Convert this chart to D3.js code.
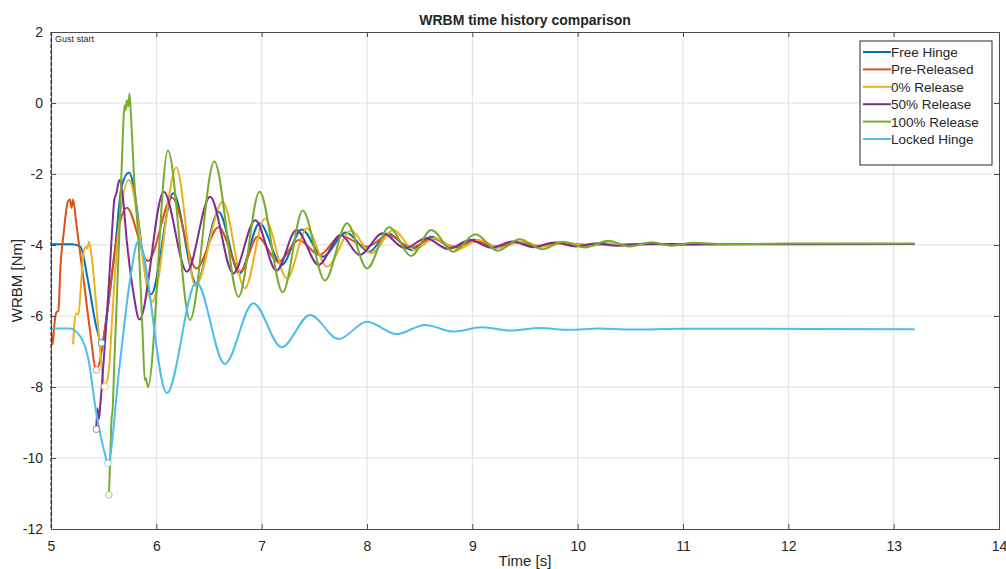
<!DOCTYPE html>
<html>
<head>
<meta charset="utf-8">
<script src="https://cdn.jsdelivr.net/npm/d3@7"></script>
<style>
    body { margin: 0; background: #fff; }
    text { font-family: "Liberation Sans", Arial, Helvetica, sans-serif; fill: #262626; }
    .grid line { stroke: #dfdfdf; stroke-width: 1; }
    .series { fill: none; stroke-width: 2; stroke-linejoin: round; }
</style>
</head>
<body>
<div id="chart"></div>
<script>
// Tick values
const xTicks = [5, 6, 7, 8, 9, 10, 11, 12, 13, 14];
const yTicks = [2, 0, -2, -4, -6, -8, -10, -12];

// Series names and colours (MATLAB default order)
const seriesNames = ["Free Hinge", "Pre-Released", "0% Release", "50% Release", "100% Release", "Locked Hinge"];
const seriesColors = ["#0072BD", "#D95319", "#EDB120", "#7E2F8E", "#77AC30", "#4DBEEE"];

// [time s, WRBM Nm]
const freeHinge = [
    [5.00, -3.98], [5.20, -3.98], [5.28, -4.05], [5.35, -4.99], [5.43, -6.30], [5.48, -6.76],
    [5.54, -5.74], [5.61, -4.05], [5.67, -2.36], [5.74, -1.96], [5.95, -5.39], [6.16, -2.54],
    [6.38, -5.08], [6.59, -3.06], [6.79, -4.80], [6.98, -3.39], [7.19, -4.56], [7.38, -3.56],
    [7.58, -4.33], [7.80, -3.65], [8.02, -4.19], [8.20, -3.67], [8.42, -4.14], [8.61, -3.77],
    [8.82, -4.09], [9.01, -3.85], [9.22, -4.07], [9.42, -3.90], [9.62, -4.05], [9.83, -3.93],
    [10.03, -4.03], [10.24, -3.95], [10.45, -4.01], [10.66, -3.96], [10.90, -3.99], [11.50, -3.97],
    [13.20, -3.97]
];
const preReleased = [
    [5.00, -6.40], [5.015, -6.80], [5.03, -6.30], [5.05, -5.90], [5.07, -5.85], [5.09, -4.60],
    [5.12, -3.67], [5.16, -2.78], [5.18, -2.72], [5.195, -2.95], [5.21, -2.72], [5.24, -3.39],
    [5.31, -4.99], [5.37, -6.40], [5.43, -7.52], [5.53, -6.00], [5.60, -4.30], [5.66, -3.30],
    [5.72, -2.95], [5.92, -4.45], [6.15, -2.67], [6.38, -4.66], [6.59, -3.50], [6.80, -4.74],
    [6.96, -3.77], [7.16, -4.47], [7.35, -3.86], [7.55, -4.28], [7.75, -3.74], [8.00, -4.05],
    [8.20, -3.72], [8.42, -4.07], [8.62, -3.82], [8.83, -4.05], [9.03, -3.90], [9.23, -4.04],
    [9.43, -3.93], [9.64, -4.02], [9.85, -3.95], [10.10, -3.99], [11.00, -3.97], [13.20, -3.97]
];
const zeroRelease = [
    [5.21, -6.80], [5.22, -6.30], [5.24, -5.92], [5.26, -5.95], [5.29, -4.89], [5.31, -4.20],
    [5.33, -4.05], [5.345, -4.10], [5.36, -3.91], [5.39, -4.42], [5.42, -5.36], [5.45, -6.40],
    [5.48, -7.40], [5.51, -7.99], [5.55, -7.50], [5.58, -6.10], [5.64, -3.60], [5.74, -2.17],
    [5.96, -5.60], [6.19, -1.82], [6.37, -5.15], [6.63, -2.78], [6.84, -5.22], [7.03, -3.25],
    [7.24, -4.94], [7.43, -3.53], [7.62, -4.61], [7.85, -3.60], [8.04, -4.23], [8.25, -3.58],
    [8.45, -4.14], [8.64, -3.81], [8.86, -4.12], [9.06, -3.86], [9.26, -4.08], [9.47, -3.90],
    [9.67, -4.05], [9.88, -3.93], [10.09, -4.03], [10.30, -3.96], [10.50, -4.00], [11.00, -3.97],
    [13.20, -3.97]
];
const fiftyRelease = [
    [5.43, -9.19], [5.44, -8.60], [5.455, -8.90], [5.465, -8.60], [5.48, -8.08], [5.51, -6.86],
    [5.54, -5.55], [5.58, -3.60], [5.60, -2.75], [5.62, -2.55], [5.65, -2.17], [5.68, -2.60],
    [5.72, -3.90], [5.78, -5.30], [5.84, -6.10], [6.07, -2.50], [6.29, -4.75], [6.51, -2.64],
    [6.73, -4.80], [6.94, -3.30], [7.14, -4.72], [7.33, -3.58], [7.54, -4.56], [7.75, -3.72],
    [7.93, -4.28], [8.15, -3.67], [8.36, -4.09], [8.56, -3.81], [8.77, -4.11], [8.98, -3.86],
    [9.18, -4.08], [9.38, -3.90], [9.58, -4.06], [9.78, -3.93], [9.98, -4.04], [10.18, -3.96],
    [10.38, -4.02], [10.60, -3.97], [11.00, -3.98], [13.20, -3.97]
];
const hundredRelease = [
    [5.55, -11.04], [5.56, -10.20], [5.575, -8.90], [5.585, -8.65], [5.60, -7.40], [5.62, -5.90],
    [5.65, -3.58], [5.67, -1.89], [5.70, -0.06], [5.71, -0.20], [5.72, 0.08], [5.735, -0.10],
    [5.745, 0.27], [5.76, -0.38], [5.79, -2.17], [5.83, -3.86], [5.87, -6.50], [5.89, -7.80],
    [5.90, -7.75], [5.92, -8.00], [6.11, -1.34], [6.32, -6.11], [6.55, -1.65], [6.78, -5.46],
    [6.98, -2.50], [7.20, -5.33], [7.39, -3.03], [7.60, -5.00], [7.81, -3.39], [8.00, -4.66],
    [8.21, -3.50], [8.42, -4.31], [8.61, -3.58], [8.82, -4.19], [9.03, -3.70], [9.24, -4.16],
    [9.45, -3.84], [9.66, -4.12], [9.86, -3.91], [10.07, -4.07], [10.29, -3.88], [10.49, -4.04],
    [10.70, -3.92], [10.90, -4.02], [11.10, -3.94], [11.40, -3.98], [12.00, -3.96], [13.20, -3.96]
];
const lockedHinge = [
    [5.00, -6.35], [5.18, -6.35], [5.24, -6.44], [5.35, -7.15], [5.43, -8.73], [5.51, -9.86],
    [5.54, -10.15], [5.65, -7.43], [5.75, -4.99], [5.83, -3.88], [6.10, -8.17], [6.38, -5.05],
    [6.65, -7.35], [6.92, -5.64], [7.19, -6.88], [7.46, -5.97], [7.73, -6.65], [8.00, -6.16],
    [8.28, -6.51], [8.55, -6.25], [8.82, -6.44], [9.09, -6.32], [9.37, -6.41], [9.64, -6.34],
    [9.92, -6.39], [10.20, -6.35], [10.50, -6.38], [11.00, -6.36], [13.20, -6.37]
];

const allSeries = [freeHinge, preReleased, zeroRelease, fiftyRelease, hundredRelease, lockedHinge];
const gustStart = 5;

// layout
const W = 1006, H = 569;
const margin = { top: 32, right: 7, bottom: 40, left: 51 };
const width = W - margin.left - margin.right;
const height = H - margin.top - margin.bottom;

const svg = d3.select("#chart").append("svg")
    .attr("width", W)
    .attr("height", H);

const g = svg.append("g")
    .attr("transform", `translate(${margin.left},${margin.top})`);

const x = d3.scaleLinear().domain([5, 14]).range([0, width]);
const y = d3.scaleLinear().domain([-12, 2]).range([height, 0]);

// grid
g.append("g").attr("class", "grid")
    .selectAll("line").data(xTicks.slice(1, -1)).join("line")
    .attr("x1", d => x(d)).attr("x2", d => x(d))
    .attr("y1", 0).attr("y2", height);
g.append("g").attr("class", "grid")
    .selectAll("line").data(yTicks.slice(1, -1)).join("line")
    .attr("x1", 0).attr("x2", width)
    .attr("y1", d => y(d)).attr("y2", d => y(d));

// clip
svg.append("defs").append("clipPath").attr("id", "clip")
    .append("rect").attr("width", width).attr("height", height);

const line = d3.line()
    .x(d => x(d[0]))
    .y(d => y(d[1]))
    .curve(d3.curveMonotoneX);

const plot = g.append("g").attr("clip-path", "url(#clip)");

allSeries.forEach((s, i) => {
    plot.append("path")
        .datum(s)
        .attr("class", "series")
        .attr("stroke", seriesColors[i])
        .attr("d", line);
});

// open circles at each series minimum
allSeries.forEach((s, i) => {
    const m = d3.least(s, d => d[1]);
    plot.append("circle")
        .attr("cx", x(m[0]))
        .attr("cy", y(m[1]))
        .attr("r", 3.3)
        .attr("fill", "#fff")
        .attr("stroke", seriesColors[i])
        .attr("stroke-opacity", 0.7)
        .attr("stroke-width", 0.9);
});

// axes (MATLAB style, ticks inward, box on)
const axisColor = "#4d4d4d";
const tickLen = 5;

const xAxis = g.append("g").attr("transform", `translate(0,${height})`)
    .call(d3.axisBottom(x).tickValues(xTicks).tickSize(-tickLen).tickPadding(12).tickFormat(d3.format("d")));
const xTop = g.append("g")
    .call(d3.axisTop(x).tickValues(xTicks).tickSize(-tickLen).tickFormat(""));
const yAxis = g.append("g")
    .call(d3.axisLeft(y).tickValues(yTicks).tickSize(-tickLen).tickPadding(8).tickFormat(d => d3.format("d")(d).replace("−", "-")));
const yRight = g.append("g").attr("transform", `translate(${width},0)`)
    .call(d3.axisRight(y).tickValues(yTicks).tickSize(-tickLen).tickFormat(""));

[xAxis, xTop, yAxis, yRight].forEach(a => {
    a.selectAll(".domain").attr("stroke", axisColor);
    a.selectAll(".tick line").attr("stroke", axisColor);
    a.selectAll(".tick text").style("font-size", "14px").attr("fill", "#262626");
});

// gust start marker
g.append("line")
    .attr("x1", x(gustStart)).attr("x2", x(gustStart))
    .attr("y1", 0).attr("y2", height)
    .attr("stroke", "#222")
    .attr("stroke-width", 1)
    .attr("stroke-dasharray", "4,2");
g.append("text")
    .attr("x", x(gustStart) + 4)
    .attr("y", 10)
    .style("font-size", "9px")
    .text("Gust start");

// titles
svg.append("text")
    .attr("x", margin.left + width / 2)
    .attr("y", 25)
    .attr("text-anchor", "middle")
    .style("font-size", "14px")
    .style("font-weight", "bold")
    .attr("fill", "#000")
    .text("WRBM time history comparison");

svg.append("text")
    .attr("x", margin.left + width / 2)
    .attr("y", 566)
    .attr("text-anchor", "middle")
    .style("font-size", "15px")
    .text("Time [s]");

svg.append("text")
    .attr("transform", `translate(22,${margin.top + height / 2}) rotate(-90)`)
    .attr("text-anchor", "middle")
    .style("font-size", "15px")
    .text("WRBM [Nm]");

// legend
const legend = svg.append("g").attr("transform", "translate(860,41)");
legend.append("rect")
    .attr("width", 132).attr("height", 124)
    .attr("fill", "#fff")
    .attr("stroke", "#262626")
    .attr("stroke-width", 1);
seriesNames.forEach((name, i) => {
    const ly = 11 + i * 17.4;
    legend.append("line")
        .attr("x1", 3).attr("x2", 31)
        .attr("y1", ly).attr("y2", ly)
        .attr("stroke", seriesColors[i])
        .attr("stroke-width", 2);
    legend.append("text")
        .attr("x", 31)
        .attr("y", ly + 5)
        .style("font-size", "13.5px")
        .attr("fill", "#000")
        .text(name);
});
</script>
</body>
</html>
